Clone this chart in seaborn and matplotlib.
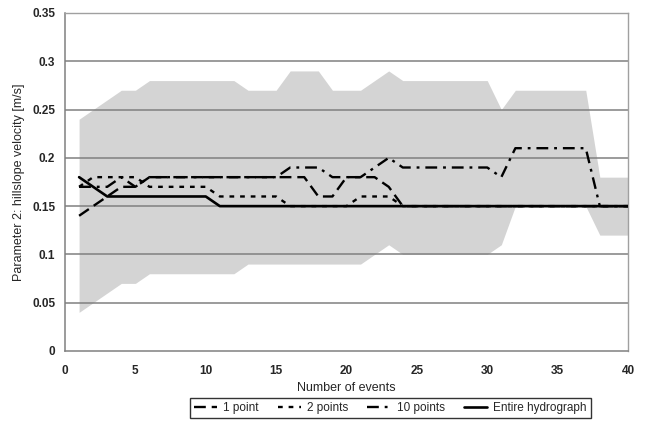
import numpy as np
import pandas as pd
import matplotlib
matplotlib.use("Agg")
import matplotlib.pyplot as plt
import seaborn as sns

# ----------------------------------------------------------
# DATA
# ----------------------------------------------------------

events = list(range(1, 41))

band_upper = [0.24, 0.25, 0.26, 0.27, 0.27, 0.28, 0.28, 0.28, 0.28, 0.28,
              0.28, 0.28, 0.27, 0.27, 0.27, 0.29, 0.29, 0.29, 0.27, 0.27,
              0.27, 0.28, 0.29, 0.28, 0.28, 0.28, 0.28, 0.28, 0.28, 0.28,
              0.25, 0.27, 0.27, 0.27, 0.27, 0.27, 0.27, 0.18, 0.18, 0.18]

band_lower = [0.04, 0.05, 0.06, 0.07, 0.07, 0.08, 0.08, 0.08, 0.08, 0.08,
              0.08, 0.08, 0.09, 0.09, 0.09, 0.09, 0.09, 0.09, 0.09, 0.09,
              0.09, 0.10, 0.11, 0.10, 0.10, 0.10, 0.10, 0.10, 0.10, 0.10,
              0.11, 0.15, 0.15, 0.15, 0.15, 0.15, 0.15, 0.12, 0.12, 0.12]

one_point = [0.14, 0.15, 0.16, 0.17, 0.17, 0.18, 0.18, 0.18, 0.18, 0.18,
             0.18, 0.18, 0.18, 0.18, 0.18, 0.18, 0.18, 0.16, 0.16, 0.18,
             0.18, 0.18, 0.17, 0.15, 0.15, 0.15, 0.15, 0.15, 0.15, 0.15,
             0.15, 0.15, 0.15, 0.15, 0.15, 0.15, 0.15, 0.15, 0.15, 0.15]

two_points = [0.17, 0.18, 0.18, 0.18, 0.18, 0.17, 0.17, 0.17, 0.17, 0.17,
              0.16, 0.16, 0.16, 0.16, 0.16, 0.15, 0.15, 0.15, 0.15, 0.15,
              0.16, 0.16, 0.16, 0.15, 0.15, 0.15, 0.15, 0.15, 0.15, 0.15,
              0.15, 0.15, 0.15, 0.15, 0.15, 0.15, 0.15, 0.15, 0.15, 0.15]

ten_points = [0.17, 0.17, 0.17, 0.18, 0.17, 0.18, 0.18, 0.18, 0.18, 0.18,
              0.18, 0.18, 0.18, 0.18, 0.18, 0.19, 0.19, 0.19, 0.18, 0.18,
              0.18, 0.19, 0.20, 0.19, 0.19, 0.19, 0.19, 0.19, 0.19, 0.19,
              0.18, 0.21, 0.21, 0.21, 0.21, 0.21, 0.21, 0.15, 0.15, 0.15]

entire = [0.18, 0.17, 0.16, 0.16, 0.16, 0.16, 0.16, 0.16, 0.16, 0.16,
          0.15, 0.15, 0.15, 0.15, 0.15, 0.15, 0.15, 0.15, 0.15, 0.15,
          0.15, 0.15, 0.15, 0.15, 0.15, 0.15, 0.15, 0.15, 0.15, 0.15,
          0.15, 0.15, 0.15, 0.15, 0.15, 0.15, 0.15, 0.15, 0.15, 0.15]

series_names = ["1 point", "2 points", "10 points", "Entire hydrograph"]

# ----------------------------------------------------------
# STYLE
# ----------------------------------------------------------

sns.set_style("white")
plt.rcParams["font.family"] = ["Liberation Sans", "DejaVu Sans"]

fig = plt.figure(figsize=(6.45, 4.33), dpi=100)
ax = fig.add_axes([0.1008, 0.1894, 0.8728, 0.7806])

# ----------------------------------------------------------
# PLOT
# ----------------------------------------------------------

ax.fill_between(events, band_lower, band_upper, color="#d4d4d4", lw=0, zorder=1)

for yv in np.arange(0.05, 0.351, 0.05):
    ax.axhline(yv, color="#808080", lw=1.1, zorder=2)

df = pd.DataFrame({
    "events": events,
    "1 point": one_point,
    "2 points": two_points,
    "10 points": ten_points,
    "Entire hydrograph": entire,
})

styles = {
    "1 point": dict(linestyle=(0, (5, 2.5)), lw=1.7),
    "2 points": dict(linestyle=(0, (2, 2.5)), lw=1.7),
    "10 points": dict(linestyle=(0, (5, 2.5, 1.2, 2.5)), lw=1.7),
    "Entire hydrograph": dict(linestyle="-", lw=1.9),
}

for name in series_names:
    sns.lineplot(data=df, x="events", y=name, ax=ax, color="black",
                 label=name, zorder=3, **styles[name])

ax.set_xlim(0, 40)
ax.set_ylim(0, 0.35)
ax.set_xticks(range(0, 41, 5))
ax.set_yticks([0, 0.05, 0.1, 0.15, 0.2, 0.25, 0.3, 0.35])
ax.set_yticklabels(["0", "0.05", "0.1", "0.15", "0.2", "0.25", "0.3", "0.35"])

for lab in ax.get_xticklabels() + ax.get_yticklabels():
    lab.set_fontweight("bold")
    lab.set_fontsize(8.5)

ax.tick_params(axis="both", direction="out", length=4, width=1, color="#808080",
               pad=3)
ax.tick_params(axis="x", pad=6)

for side in ["left", "bottom"]:
    ax.spines[side].set_color("#808080")
    ax.spines[side].set_linewidth(1.1)
for side in ["top", "right"]:
    ax.spines[side].set_color("#a0a0a0")
    ax.spines[side].set_linewidth(1.0)

ax.set_xlabel("Number of events", fontsize=9, labelpad=4)
ax.set_ylabel("Parameter 2: hillslope velocity [m/s]", fontsize=9, labelpad=5)

ax.get_legend().remove()
handles, labels = ax.get_legend_handles_labels()
leg = fig.legend(handles, labels, loc="center", bbox_to_anchor=(0.605, 0.057),
                 ncol=4, frameon=True, fancybox=False, fontsize=8.5,
                 handlelength=2.0, columnspacing=1.6, handletextpad=0.5,
                 borderpad=0.35)
leg.get_frame().set_edgecolor("black")
leg.get_frame().set_linewidth(1.0)

fig.savefig("out.png", dpi=100)
